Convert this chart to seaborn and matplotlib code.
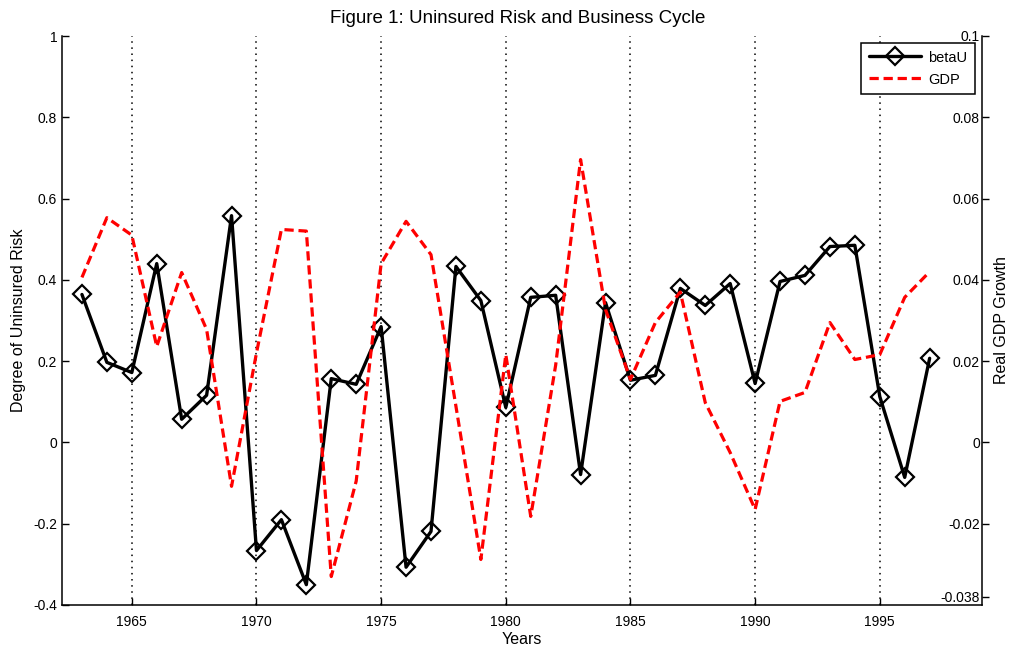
import numpy as np
import pandas as pd
import seaborn as sns
import matplotlib.pyplot as plt

# ---------------------------------------------------------
# DATA
# ---------------------------------------------------------

years = list(range(1963, 1998))

beta_u = [0.364, 0.197, 0.172, 0.440, 0.057, 0.116, 0.558, -0.266, -0.190, -0.350,
          0.157, 0.143, 0.285, -0.307, -0.219, 0.433, 0.349, 0.086, 0.357, 0.362,
          -0.079, 0.344, 0.153, 0.165, 0.379, 0.337, 0.391, 0.145, 0.396, 0.411,
          0.482, 0.485, 0.113, -0.086, 0.207]

gdp = [0.0406, 0.0553, 0.0510, 0.0236, 0.0418, 0.0278, -0.0108, 0.0220, 0.0524, 0.0520,
       -0.0330, -0.0095, 0.0440, 0.0544, 0.0462, 0.0089, -0.0288, 0.0216, -0.0182, 0.0190,
       0.0696, 0.0327, 0.0155, 0.0295, 0.0370, 0.0098, -0.0025, -0.0165, 0.0101, 0.0123,
       0.0295, 0.0204, 0.0216, 0.0357, 0.0420]

x_ticks = [1965, 1970, 1975, 1980, 1985, 1990, 1995]
left_ticks = [-0.4, -0.2, 0, 0.2, 0.4, 0.6, 0.8, 1]
left_labels = ["-0.4", "-0.2", "0", "0.2", "0.4", "0.6", "0.8", "1"]
right_ticks = [-0.038, -0.02, 0, 0.02, 0.04, 0.06, 0.08, 0.1]
right_labels = ["-0.038", "-0.02", "0", "0.02", "0.04", "0.06", "0.08", "0.1"]

df = pd.DataFrame({"Year": years, "betaU": beta_u, "GDP": gdp})

# ---------------------------------------------------------
# STYLE
# ---------------------------------------------------------

sns.set_style("ticks")
plt.rcParams["font.family"] = ["Liberation Sans", "DejaVu Sans"]
plt.rcParams["text.color"] = "black"
plt.rcParams["axes.labelcolor"] = "black"

W, H = 1019, 652
fig = plt.figure(figsize=(W / 100, H / 100), dpi=100)
ax = fig.add_axes([62 / W, (H - 605) / H, (982 - 62) / W, (605 - 36) / H])

# ---------------------------------------------------------
# PLOT
# ---------------------------------------------------------

sns.lineplot(data=df, x="Year", y="betaU", ax=ax, color="black", linewidth=2.4,
             marker="D", markersize=9, markerfacecolor="none",
             markeredgecolor="black", markeredgewidth=1.6, label="betaU",
             legend=False)
ax.set_xlim(1962.2, 1999.1)
ax.set_ylim(-0.4, 1)
ax.set_xticks(x_ticks)
ax.set_yticks(left_ticks, left_labels)
ax.grid(axis="x", linestyle=(0, (1, 3)), color="black", linewidth=1.1)
ax.tick_params(axis="both", direction="in", length=5, width=1, labelsize=10,
               colors="black")
ax.tick_params(axis="x", pad=7)
ax.spines["top"].set_visible(False)
ax.spines["right"].set_visible(False)
for s in ["left", "bottom"]:
    ax.spines[s].set_linewidth(1.1)
    ax.spines[s].set_color("black")
ax.set_xlabel("Years", fontsize=11.5, labelpad=2)
ax.set_ylabel("Degree of Uninsured Risk", fontsize=11.5, labelpad=5)

ax2 = ax.twinx()
sns.lineplot(data=df, x="Year", y="GDP", ax=ax2, color="red", linewidth=2.3,
             label="GDP", legend=False)
ax2.get_lines()[-1].set_dashes((2.9, 1.5))
ax2.set_ylim(-0.04, 0.1)
ax2.set_yticks(right_ticks, right_labels, ha="right")
ax2.tick_params(axis="y", direction="out", length=5, width=1, labelsize=10,
                pad=-6.5, colors="black")
ax2.spines["top"].set_visible(False)
ax2.spines["left"].set_visible(False)
ax2.spines["bottom"].set_visible(False)
ax2.spines["right"].set_linewidth(1.1)
ax2.spines["right"].set_color("black")
ax2.set_ylabel("Real GDP Growth", fontsize=11.5, labelpad=4)

handles = ax.get_lines()[:1] + ax2.get_lines()[-1:]
leg = ax2.legend(handles, ["betaU", "GDP"], loc="upper right", fontsize=10.5,
                 frameon=True, fancybox=False, edgecolor="black", framealpha=1,
                 handlelength=3.6, borderaxespad=0.5, borderpad=0.5,
                 labelspacing=0.55, handletextpad=0.5)
leg.get_frame().set_linewidth(1.1)

fig.suptitle("Figure 1: Uninsured Risk and Business Cycle", fontsize=13.5,
             x=0.508, y=0.985)

fig.savefig("out.png", dpi=100)
